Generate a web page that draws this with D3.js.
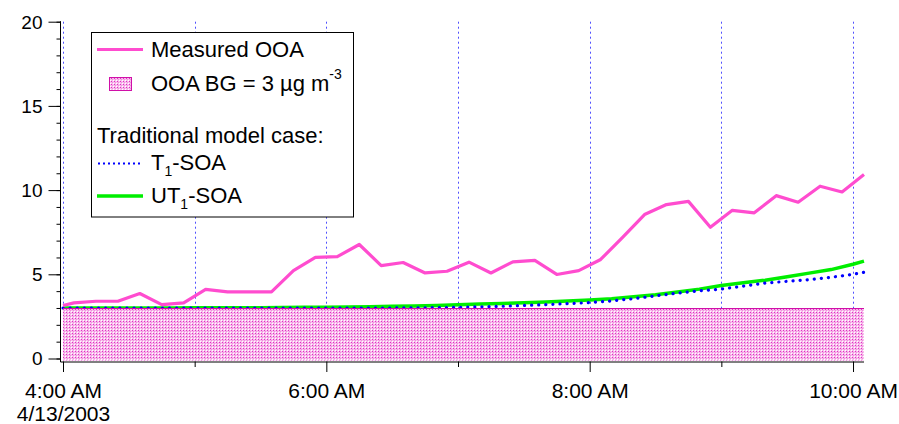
<!DOCTYPE html>
<html>
<head>
<meta charset="utf-8">
<script src="https://cdn.jsdelivr.net/npm/d3@7"></script>
<style>
  html, body { margin: 0; padding: 0; background: #fff; }
  svg { display: block; font-family: "Liberation Sans", Arial, sans-serif; }
</style>
</head>
<body>
<svg id="chart" width="899" height="424"></svg>
<script>
// Start of the record: 4/13/2003 04:00
const startTime = new Date(2003, 3, 13, 4, 0);

// Measured OOA (µg m-3), minutes after 04:00
const ooaMinutes = [0, 5, 15, 25, 35, 45, 55, 65, 75, 85, 95, 105, 115, 125, 135, 145, 155,
  165, 175, 185, 195, 205, 215, 225, 235, 245, 255, 265, 275, 285, 295, 305, 315, 325,
  335, 345, 355, 365];
const ooaValues = [3.15, 3.3, 3.4, 3.4, 3.86, 3.2, 3.3, 4.1, 3.96, 3.96, 3.96, 5.22, 6.0,
  6.05, 6.77, 5.52, 5.7, 5.08, 5.18, 5.72, 5.08, 5.74, 5.83, 4.99, 5.22, 5.88, 7.2, 8.55,
  9.14, 9.33, 7.79, 8.8, 8.65, 9.67, 9.28, 10.23, 9.89, 10.92];

// Traditional model case, minutes after 04:00
const modelMinutes = [0, 10, 20, 30, 40, 50, 60, 70, 80, 90, 100, 110, 120, 130, 140, 150,
  160, 170, 180, 190, 200, 210, 220, 230, 240, 250, 260, 270, 280, 290, 300, 310, 320, 330,
  340, 350, 360, 365];
const t1Values = [3.0, 3.0, 3.0, 3.0, 3.0, 3.0, 3.0, 3.0, 3.0, 3.0, 3.0, 3.0, 3.0, 3.0, 3.0,
  3.0, 3.01, 3.02, 3.04, 3.07, 3.1, 3.15, 3.2, 3.26, 3.32, 3.42, 3.55, 3.72, 3.88, 4.02,
  4.12, 4.3, 4.48, 4.58, 4.68, 4.82, 5.0, 5.12];
const ut1Values = [3.0, 3.0, 3.0, 3.0, 3.0, 3.0, 3.01, 3.01, 3.02, 3.02, 3.03, 3.04, 3.05,
  3.06, 3.08, 3.1, 3.12, 3.15, 3.19, 3.23, 3.27, 3.31, 3.36, 3.41, 3.47, 3.55, 3.66, 3.78,
  3.95, 4.12, 4.33, 4.5, 4.65, 4.85, 5.07, 5.28, 5.6, 5.78];

// OOA background level
const bgLevel = 3;

// Axis ticks
const yTicks = [0, 5, 10, 15, 20];
const yMinorTicks = d3.range(0, 21, 1);
const xTickHours = [4, 5, 6, 7, 8, 9, 10];
const xLabelHours = [4, 6, 8, 10];
const dateLabel = "4/13/2003";

const colors = { ooa: "#ff4ccf", t1: "#0000ff", ut1: "#00ee00", grid: "#4f4fff", bgEdge: "#d010a8" };

const atMinute = m => new Date(startTime.getTime() + m * 60000);

const svg = d3.select("#chart");

const x = d3.scaleTime()
  .domain([atMinute(0), atMinute(365)])
  .range([63, 864]);
const y = d3.scaleLinear().domain([0, 20]).range([358.5, 21.7]);

const axisY = 361.5;   // x-axis line position
const axisX = 60.5;    // y-axis line position

// fill pattern for the background band
const defs = svg.append("defs");
const pat = defs.append("pattern")
  .attr("id", "bgPattern")
  .attr("patternUnits", "userSpaceOnUse")
  .attr("width", 3).attr("height", 3);
pat.append("rect").attr("width", 3).attr("height", 3).attr("fill", "#f8bcec");
pat.append("rect").attr("x", 0).attr("y", 0).attr("width", 1).attr("height", 1).attr("fill", "#e030c4");
pat.append("rect").attr("x", 2).attr("y", 2).attr("width", 1).attr("height", 1).attr("fill", "#ffffff");
pat.append("rect").attr("x", 1).attr("y", 1).attr("width", 1).attr("height", 1).attr("fill", "#ee90dc");

// hourly grid lines
const hourDates = xTickHours.map(h => new Date(2003, 3, 13, h, 0));
svg.append("g").selectAll("line").data(hourDates).join("line")
  .attr("x1", d => Math.round(x(d)) + 0.5).attr("x2", d => Math.round(x(d)) + 0.5)
  .attr("y1", y(20)).attr("y2", axisY)
  .attr("stroke", colors.grid).attr("stroke-width", 1)
  .attr("stroke-dasharray", "2,3");

// model lines
const modelLine = vals => d3.line()
  .x((d, i) => x(atMinute(modelMinutes[i])))
  .y((d, i) => y(vals[i]))(vals);

svg.append("path")
  .attr("d", modelLine(ut1Values))
  .attr("fill", "none").attr("stroke", colors.ut1).attr("stroke-width", 3.5);

svg.append("path")
  .attr("d", modelLine(t1Values))
  .attr("fill", "none").attr("stroke", colors.t1).attr("stroke-width", 3.2)
  .attr("stroke-linecap", "round").attr("stroke-dasharray", "0.1,7");

// background band
const bgArea = d3.area()
  .x(d => x(atMinute(d)))
  .y0(y(0) + 2)
  .y1(y(bgLevel));
svg.append("path")
  .attr("d", bgArea([0, 365]))
  .attr("fill", "url(#bgPattern)");
svg.append("line")
  .attr("x1", x(atMinute(0))).attr("x2", x(atMinute(365)))
  .attr("y1", Math.round(y(bgLevel)) + 0.5).attr("y2", Math.round(y(bgLevel)) + 0.5)
  .attr("stroke", colors.bgEdge).attr("stroke-width", 1);

// measured OOA
const ooaLine = d3.line()
  .x((d, i) => x(atMinute(ooaMinutes[i])))
  .y(d => y(d));
svg.append("path")
  .attr("d", ooaLine(ooaValues))
  .attr("fill", "none").attr("stroke", colors.ooa).attr("stroke-width", 3.2)
  .attr("stroke-linejoin", "round");

// y axis
const yAxisG = svg.append("g").attr("transform", `translate(${axisX},0)`);
yAxisG.call(d3.axisLeft(y).tickValues(yMinorTicks).tickSize(4).tickFormat(""))
  .call(g => g.select(".domain").remove());
yAxisG.append("g").call(d3.axisLeft(y).tickValues(yTicks).tickSize(12).tickPadding(6))
  .call(g => g.select(".domain").remove())
  .call(g => g.selectAll("text").attr("font-size", 19).attr("font-family", "Liberation Sans, Arial, sans-serif").attr("fill", "#000").attr("dy", "0.34em"));
yAxisG.selectAll("line").attr("stroke", "#000");
yAxisG.append("line").attr("x1", 0).attr("x2", 0).attr("y1", y(20) - 0.5).attr("y2", axisY + 0.5).attr("stroke", "#000");

// x axis
const xAxisG = svg.append("g").attr("transform", `translate(0,${axisY})`);
xAxisG.call(d3.axisBottom(x).tickValues(hourDates)
    .tickSize(0).tickFormat(""))
  .call(g => g.select(".domain").remove());
xAxisG.selectAll(".tick line").remove();
xAxisG.selectAll(".tick").append("line")
  .attr("y1", 0)
  .attr("y2", d => xLabelHours.includes(d.getHours()) ? 10.5 : 5.5)
  .attr("stroke", "#000");
const fmt = d3.timeFormat("%-I:%M %p");
xAxisG.selectAll(".tick").filter(d => xLabelHours.includes(d.getHours()))
  .append("text")
  .attr("y", 36.5)
  .attr("text-anchor", "middle")
  .attr("font-size", 21)
  .attr("fill", "#000")
  .text(d => fmt(d));
xAxisG.selectAll(".tick").filter(d => d.getHours() === 4)
  .append("text")
  .attr("y", 59)
  .attr("text-anchor", "middle")
  .attr("font-size", 21)
  .attr("fill", "#000")
  .text(dateLabel);
xAxisG.append("line").attr("x1", axisX).attr("x2", 864).attr("y1", 0.5).attr("y2", 0.5).attr("stroke", "#000");

// legend
const lg = svg.append("g");
lg.append("rect")
  .attr("x", 91.5).attr("y", 32.5).attr("width", 262).attr("height", 184.5)
  .attr("fill", "#fff").attr("stroke", "#000").attr("stroke-width", 1);

const legendText = (tx, ty) => lg.append("text")
  .attr("x", tx).attr("y", ty).attr("font-size", 22).attr("fill", "#000");

lg.append("line").attr("x1", 97).attr("x2", 143).attr("y1", 49.5).attr("y2", 49.5)
  .attr("stroke", colors.ooa).attr("stroke-width", 3);
legendText(151, 57).text("Measured OOA");

lg.append("rect").attr("x", 109.5).attr("y", 77.5).attr("width", 22).attr("height", 13)
  .attr("fill", "url(#bgPattern)").attr("stroke", colors.bgEdge).attr("stroke-width", 1);
const bgText = legendText(151, 91);
bgText.append("tspan").text("OOA BG = 3 µg m");
bgText.append("tspan").attr("font-size", 14).attr("dy", -12).text("-3");

legendText(97, 143).text("Traditional model case:");

lg.append("line").attr("x1", 98).attr("x2", 142).attr("y1", 163.5).attr("y2", 163.5)
  .attr("stroke", colors.t1).attr("stroke-width", 2).attr("stroke-dasharray", "2,3");
const t1Text = legendText(151, 170);
t1Text.append("tspan").text("T");
t1Text.append("tspan").attr("font-size", 14).attr("dy", 6).text("1");
t1Text.append("tspan").attr("dy", -6).text("-SOA");

lg.append("line").attr("x1", 97).attr("x2", 143).attr("y1", 196).attr("y2", 196)
  .attr("stroke", colors.ut1).attr("stroke-width", 3.5);
const ut1Text = legendText(151, 203);
ut1Text.append("tspan").text("UT");
ut1Text.append("tspan").attr("font-size", 14).attr("dy", 6).text("1");
ut1Text.append("tspan").attr("dy", -6).text("-SOA");
</script>
</body>
</html>
